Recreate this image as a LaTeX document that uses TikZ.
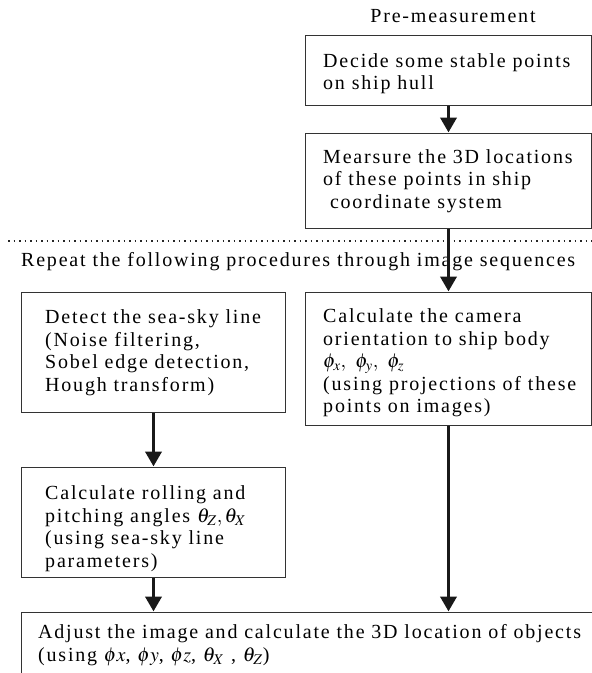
\documentclass[tikz,border=0pt]{standalone}
\usepackage{mathptmx}
\usepackage{fontspec}
\setmainfont{Liberation Serif}
\newfontfamily\spacedserif[LetterSpace=9]{Liberation Serif}
\usetikzlibrary{arrows.meta}

\tikzset{
  procbox/.style={draw=black!80, line width=1pt, rectangle, inner sep=0pt, anchor=north west},
  proctext/.style={anchor=west, align=left, inner sep=0pt,
    font=\spacedserif\fontsize{20}{22.5}\selectfont},
  flow/.style={line width=3.8pt, black!90,
    -{Triangle[width=16pt,length=15pt]}, shorten >=0.5pt},
}

\begin{document}
\begin{tikzpicture}[x=1pt, y=-1pt]
  \useasboundingbox (0,0) rectangle (592,673);
  \clip (0,0) rectangle (592,673);

  % pre-measurement stage
  \node[proctext, anchor=center] (pre) at (453,16) {Pre-measurement};
  \node[procbox, minimum width=286pt, minimum height=70pt] (b1) at (305,35) {};
  \node[proctext] (t1) at ([xshift=18pt, yshift=-3pt]b1.west) {Decide some stable points\\on ship hull};
  \node[procbox, minimum width=286pt, minimum height=95pt] (b2) at (305,133) {};
  \node[proctext] (t2) at ([xshift=18pt]b2.west)
    {Mearsure the 3D locations\\of these points in ship\\\ coordinate system};

  % separator between the two stages
  \coordinate (sepL) at (8,241);
  \coordinate (sepR) at (592,241);
  \draw[line width=1.5pt, dash pattern=on 1.5pt off 4pt, black!85] (sepL) -- (sepR);
  \node[proctext] (rep) at (21,262) {Repeat the following procedures through image sequences};

  % per-image procedures
  \node[procbox, minimum width=264pt, minimum height=120pt] (b3) at (21,292) {};
  \node[proctext] (t3) at ([xshift=24pt]b3.west)
    {Detect the sea-sky line\\(Noise filtering,\\Sobel edge detection,\\Hough transform)};
  \node[procbox, minimum width=286pt, minimum height=133pt] (bc) at (305,292) {};
  \node[proctext] (tc) at ([xshift=18pt, yshift=-4pt]bc.west)
    {Calculate the camera\\orientation to ship body\\$\phi_x,\ \phi_y,\ \phi_z$\\(using projections of these\\points on images)};
  \node[procbox, minimum width=264pt, minimum height=110pt] (b4) at (21,467) {};
  \node[proctext] (t4) at ([xshift=24pt, yshift=-6pt]b4.west)
    {Calculate rolling and\\pitching angles $\theta_Z,\theta_X$\\(using sea-sky line\\parameters)};
  \node[procbox, minimum width=575pt, minimum height=90pt] (b5) at (21,612) {};
  \node[proctext] (t5) at (38,645)
    {Adjust the image and calculate the 3D location of objects\\(using $\phi x$, $\phi y$, $\phi z$, $\theta_X$ , $\theta_Z$)};

  % flow connectors
  \draw[flow] (b1.south -| b2.north) -- (b2.north);
  \draw[flow] (b2.south) -- (bc.north);
  \draw[flow] (b3.south) -- (b4.north);
  \draw[flow] (b4.south) -- (b4.south |- b5.north);
  \draw[flow] (bc.south) -- (bc.south |- b5.north);
\end{tikzpicture}
\end{document}
